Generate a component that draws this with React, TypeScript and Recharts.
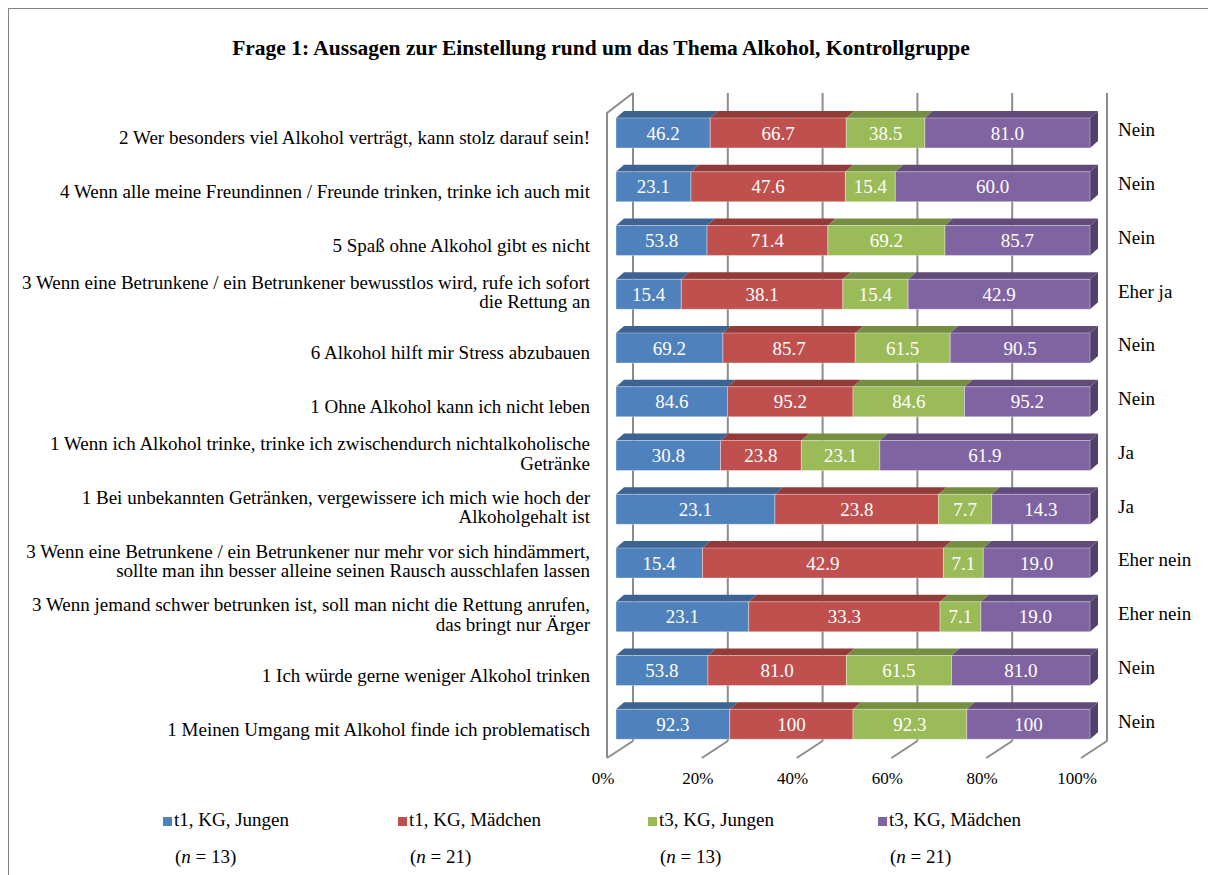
import React from "react";
import { Bar, BarChart, CartesianGrid, LabelList, Legend, XAxis, YAxis } from "recharts";

const statements = [
  "2 Wer besonders viel Alkohol verträgt, kann stolz darauf sein!",
  "4 Wenn alle meine Freundinnen / Freunde trinken, trinke ich auch mit",
  "5 Spaß ohne Alkohol gibt es nicht",
  "3 Wenn eine Betrunkene / ein Betrunkener bewusstlos wird, rufe ich sofort\ndie Rettung an",
  "6 Alkohol hilft mir Stress abzubauen",
  "1 Ohne Alkohol kann ich nicht leben",
  "1 Wenn ich Alkohol trinke, trinke ich zwischendurch nichtalkoholische\nGetränke",
  "1 Bei unbekannten Getränken, vergewissere ich mich wie hoch der\nAlkoholgehalt ist",
  "3 Wenn eine Betrunkene / ein Betrunkener nur mehr vor sich hindämmert,\nsollte man ihn besser alleine seinen Rausch ausschlafen lassen",
  "3 Wenn jemand schwer betrunken ist, soll man nicht die Rettung anrufen,\ndas bringt nur Ärger",
  "1 Ich würde gerne weniger Alkohol trinken",
  "1 Meinen Umgang mit Alkohol finde ich problematisch",
];

const answers = ["Nein", "Nein", "Nein", "Eher ja", "Nein", "Nein", "Ja", "Ja", "Eher nein", "Eher nein", "Nein", "Nein"];

const t1Jungen = [46.2, 23.1, 53.8, 15.4, 69.2, 84.6, 30.8, 23.1, 15.4, 23.1, 53.8, 92.3];
const t1Maedchen = [66.7, 47.6, 71.4, 38.1, 85.7, 95.2, 23.8, 23.8, 42.9, 33.3, 81.0, 100];
const t3Jungen = [38.5, 15.4, 69.2, 15.4, 61.5, 84.6, 23.1, 7.7, 7.1, 7.1, 61.5, 92.3];
const t3Maedchen = [81.0, 60.0, 85.7, 42.9, 90.5, 95.2, 61.9, 14.3, 19.0, 19.0, 81.0, 100];

const groupNames = ["t1, KG, Jungen", "t1, KG, Mädchen", "t3, KG, Jungen", "t3, KG, Mädchen"];
const groupSizes = [13, 21, 13, 21];
const percentTicks = [0, 0.2, 0.4, 0.6, 0.8, 1];

const rows = statements.map((statement, i) => ({
  statement,
  answer: answers[i],
  t1J: t1Jungen[i],
  t1M: t1Maedchen[i],
  t3J: t3Jungen[i],
  t3M: t3Maedchen[i],
}));

const series = [
  { key: "t1J", front: "#4F81BD", top: "#3C6392", side: "#36597F" },
  { key: "t1M", front: "#C0504D", top: "#933B39", side: "#7F3331" },
  { key: "t3J", front: "#9BBB59", top: "#768E42", side: "#65793A" },
  { key: "t3M", front: "#8064A2", top: "#604B7B", side: "#54406C" },
];

const FONT = '"Liberation Serif", "Times New Roman", serif';
const GREY = "#8c8c8c";
const TEXT_SIZE = 19;

const W = 1220;
const H = 900;

// 3D geometry (svg px)
const TOP_DX = 8;
const TOP_DY = 7;
const BACK_DX = 17;
const FRONT_DX = 9;
const BACK_TOP = 84;
const BACK_BOTTOM = 732;
const FRONT_TOP = 104;
const FRONT_BOTTOM = 749;

const fmt = (v: number) => (v === 100 ? "100" : v.toFixed(1));

function makeBlock(front: string, top: string, side: string, withSide: boolean) {
  return (props: any) => {
    const { x, y, width, height } = props;
    if (!width || width <= 0) return <g />;
    return (
      <g>
        <polygon
          points={`${x},${y} ${x + TOP_DX},${y - TOP_DY} ${x + width + TOP_DX},${y - TOP_DY} ${x + width},${y}`}
          fill={top}
        />
        {withSide && (
          <polygon
            points={`${x + width},${y} ${x + width + TOP_DX},${y - TOP_DY} ${x + width + TOP_DX},${y + height - TOP_DY} ${x + width},${y + height}`}
            fill={side}
          />
        )}
        <rect x={x} y={y} width={width} height={height} fill={front} stroke="rgba(255,255,255,0.35)" strokeWidth={1} />
      </g>
    );
  };
}

function StatementTick({ y, payload }: any) {
  const lines = String(payload.value).split("\n");
  const lh = 19.5;
  const mid = y + 5 - 7 * (lines.length - 1);
  const first = mid - ((lines.length - 1) * lh) / 2;
  return (
    <text textAnchor="end" fontFamily={FONT} fontSize={TEXT_SIZE} fill="#000">
      {lines.map((l, i) => (
        <tspan key={i} x={581} y={first + i * lh} dominantBaseline="central">
          {l}
        </tspan>
      ))}
    </text>
  );
}

function AnswerTick({ y, payload }: any) {
  return (
    <text x={1109} y={y - 3} dominantBaseline="central" fontFamily={FONT} fontSize={TEXT_SIZE} fill="#000">
      {payload.value}
    </text>
  );
}

function PercentTick({ x, payload }: any) {
  const v = payload.value as number;
  return (
    <g>
      <line x1={x + BACK_DX} y1={BACK_BOTTOM} x2={x - FRONT_DX} y2={FRONT_BOTTOM} stroke={GREY} strokeWidth={2} />
      {v === 0 && (
        <polyline
          points={`${x - FRONT_DX},${FRONT_BOTTOM} ${x - FRONT_DX},${FRONT_TOP} ${x + BACK_DX},${BACK_TOP}`}
          fill="none"
          stroke={GREY}
          strokeWidth={2}
        />
      )}
      <text x={x - 13} y={769} textAnchor="middle" dominantBaseline="central" fontFamily={FONT} fontSize={17} fill="#000">
        {`${Math.round(v * 100)}%`}
      </text>
    </g>
  );
}

function GroupLegend() {
  const squareX = [154, 389, 639, 869];
  const nX = [166, 401, 651, 881];
  return (
    <div style={{ position: "relative", width: W, height: 100, fontFamily: FONT, fontSize: TEXT_SIZE, color: "#000" }}>
      {groupNames.map((name, i) => (
        <div key={name} style={{ position: "absolute", left: squareX[i], top: 0, height: 22, lineHeight: "22px", whiteSpace: "nowrap" }}>
          <span style={{ display: "inline-block", width: 9, height: 9, background: series[i].front, marginRight: 2 }} />
          {name}
        </div>
      ))}
      {groupSizes.map((n, i) => (
        <div key={i} style={{ position: "absolute", left: nX[i], top: 37, height: 22, lineHeight: "22px", whiteSpace: "nowrap" }}>
          (<i>n</i> = {n})
        </div>
      ))}
    </div>
  );
}

export default function App() {
  return (
    <div style={{ position: "relative", width: W, height: H, border: "1px solid #808080", background: "#fff" }}>
      <div
        style={{
          position: "absolute",
          left: 0,
          top: 27,
          width: 1184,
          textAlign: "center",
          fontFamily: FONT,
          fontWeight: "bold",
          fontSize: 21.5,
          lineHeight: "24px",
          zIndex: 2,
        }}
      >
        Frage 1: Aussagen zur Einstellung rund um das Thema Alkohol, Kontrollgruppe
      </div>
      <BarChart
        width={W}
        height={H}
        data={rows}
        layout="vertical"
        stackOffset="expand"
        barSize={30}
        margin={{ top: 97, right: 19, left: 0, bottom: 0 }}
      >
        <CartesianGrid
          horizontal={false}
          stroke={GREY}
          strokeWidth={2}
          y={BACK_TOP}
          height={BACK_BOTTOM - BACK_TOP}
          verticalCoordinatesGenerator={({ offset }: any) =>
            percentTicks.map((t) => offset.left + t * offset.width + BACK_DX)
          }
        />
        <XAxis
          type="number"
          domain={[0, 1]}
          ticks={percentTicks}
          axisLine={false}
          tickLine={false}
          height={58}
          tick={<PercentTick />}
        />
        <YAxis
          yAxisId="statement"
          type="category"
          dataKey="statement"
          width={607}
          interval={0}
          axisLine={false}
          tickLine={false}
          tick={<StatementTick />}
        />
        <YAxis
          yAxisId="answer"
          orientation="right"
          type="category"
          dataKey="answer"
          width={120}
          interval={0}
          axisLine={false}
          tickLine={false}
          tick={<AnswerTick />}
        />
        {series.map((s, i) => (
          <Bar
            key={s.key}
            dataKey={s.key}
            yAxisId="statement"
            stackId="all"
            isAnimationActive={false}
            shape={makeBlock(s.front, s.top, s.side, i === series.length - 1)}
          >
            <LabelList
              dataKey={s.key}
              position="center"
              formatter={(v: any) => fmt(Number(v))}
              fill="#fff"
              fontSize={TEXT_SIZE}
              fontFamily={FONT}
            />
          </Bar>
        ))}
        <Legend
          verticalAlign="bottom"
          content={<GroupLegend />}
          wrapperStyle={{ left: 0, bottom: 0, width: W, height: 100 }}
        />
      </BarChart>
    </div>
  );
}
